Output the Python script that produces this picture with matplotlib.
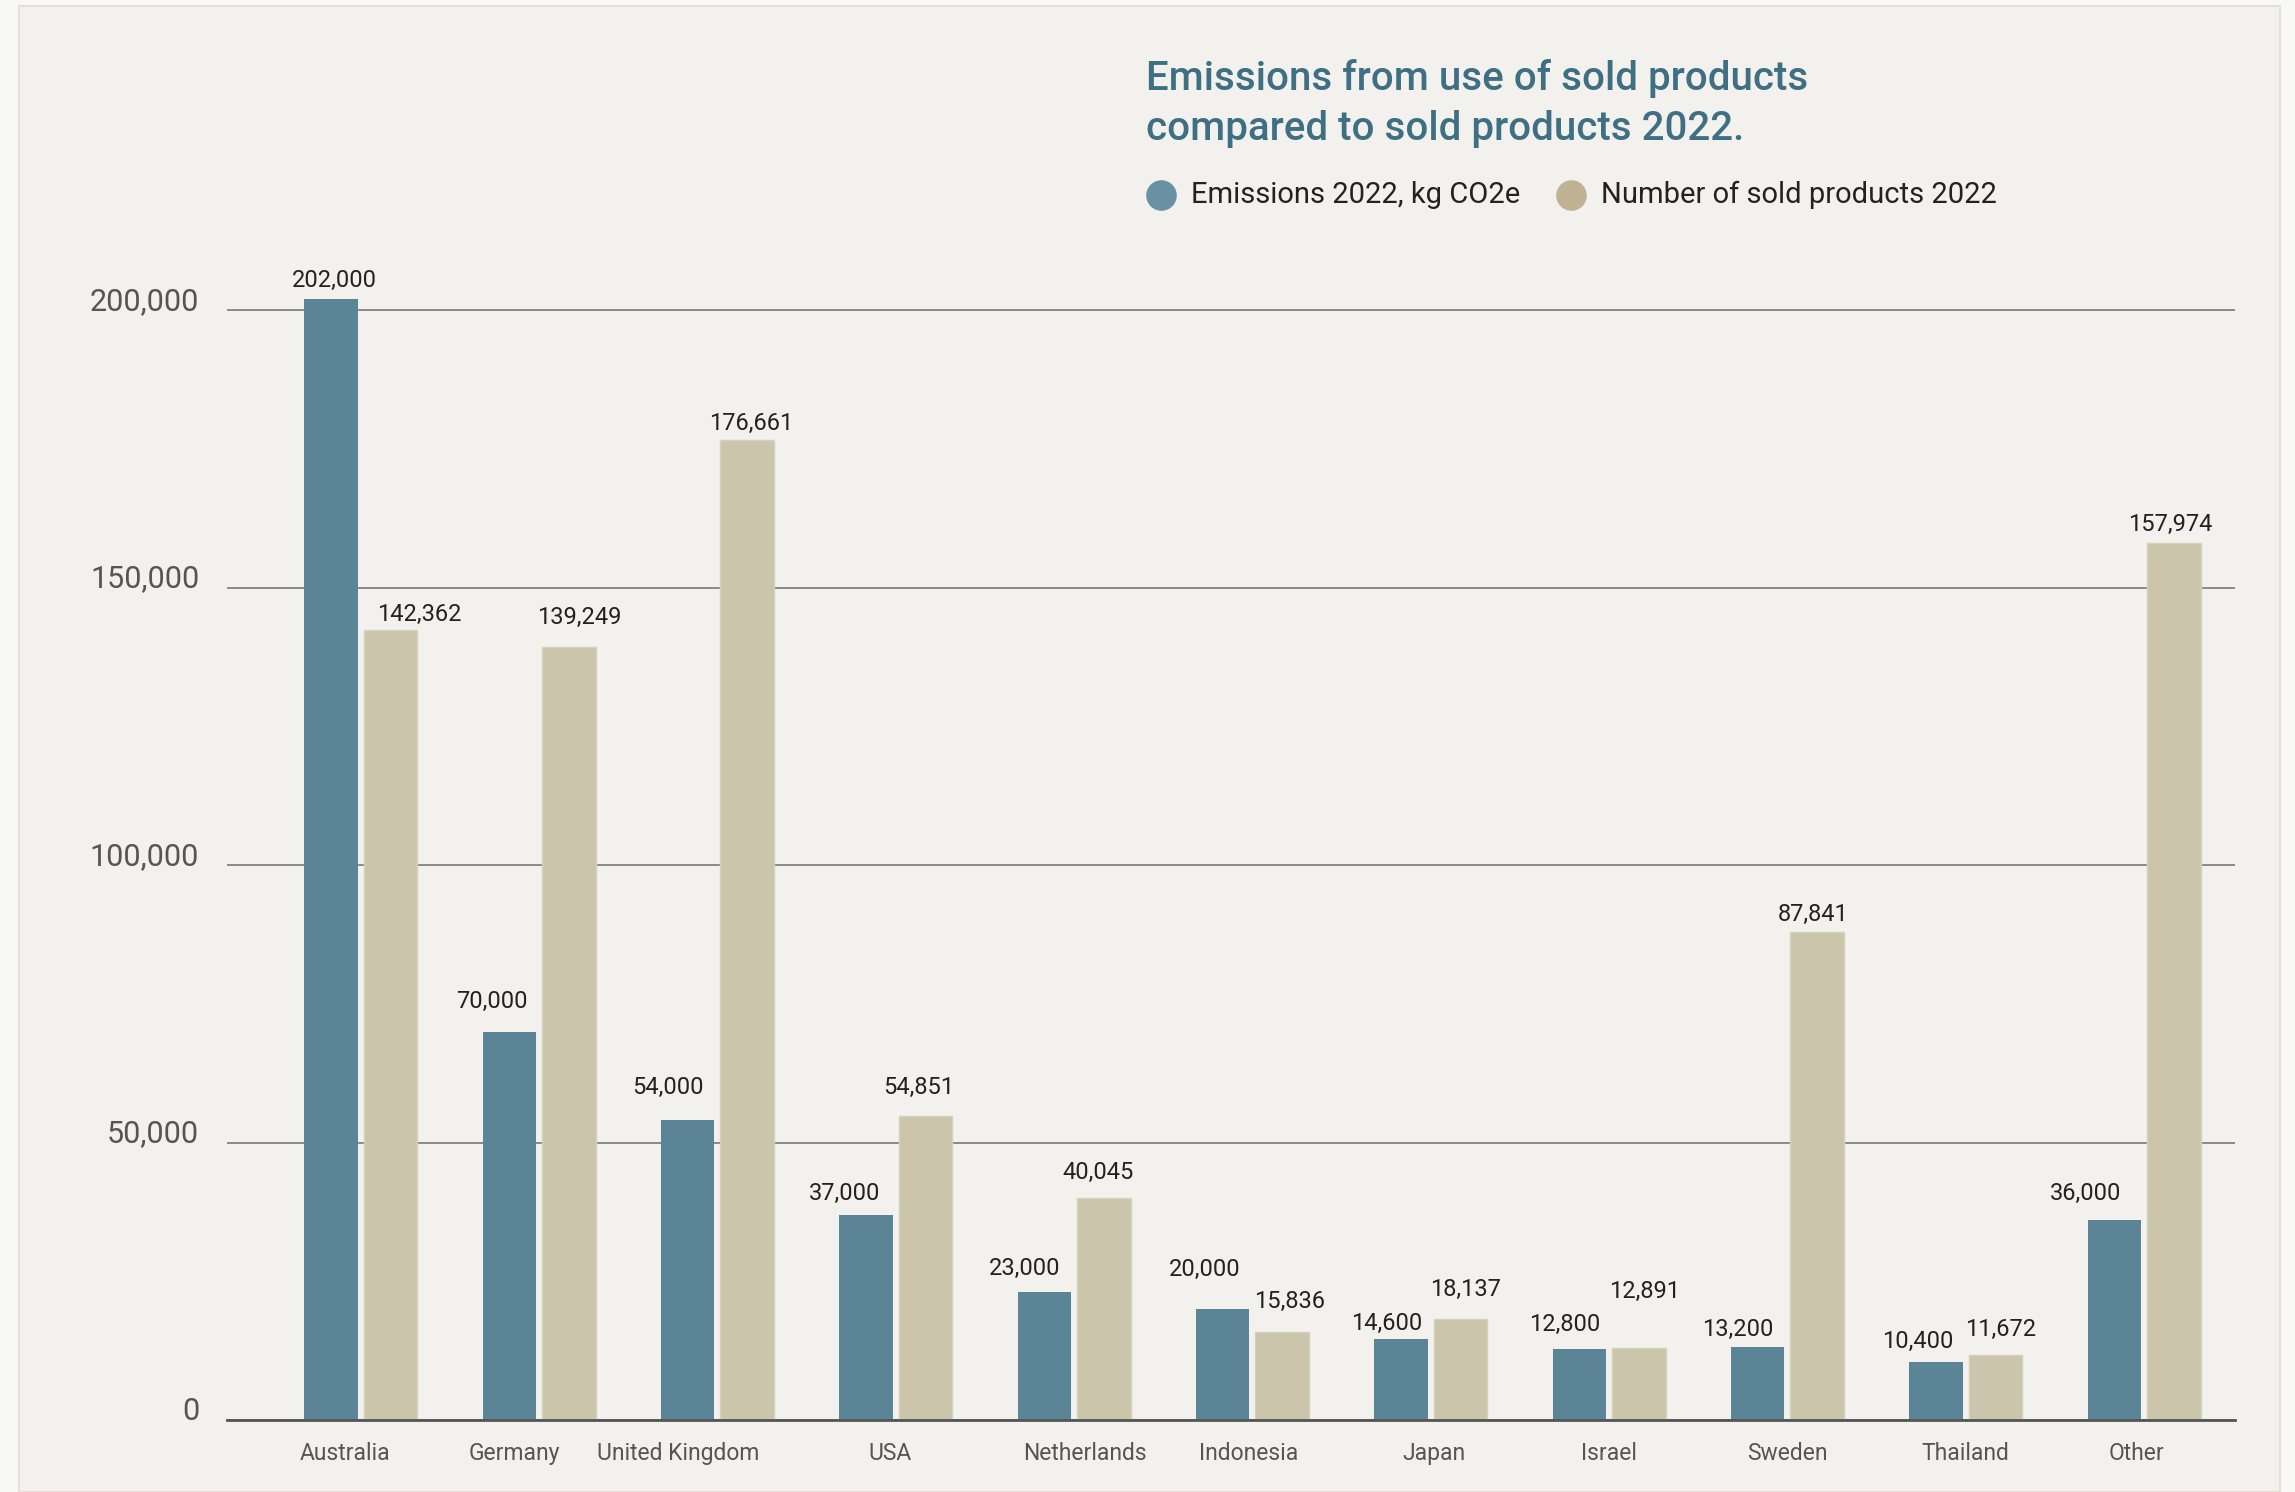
import numpy as np
import matplotlib.pyplot as plt
from matplotlib.lines import Line2D
from matplotlib.patches import Rectangle


# Data
countries = ['Australia', 'Germany', 'United Kingdom', 'USA', 'Netherlands',
             'Indonesia', 'Japan', 'Israel', 'Sweden', 'Thailand', 'Other']
emissions = [202000, 70000, 54000, 37000, 23000, 20000, 14600, 12800, 13200,
             10400, 36000]
sold = [142362, 139249, 176661, 54851, 40045, 15836, 18137, 12891, 87841,
        11672, 157974]
yticks = [0, 50000, 100000, 150000, 200000]

# Colours
bg = '#f2f1ed'
blue = '#5b8497'
tan = '#cbc5ab'
title_col = '#3e6f82'

plt.rcParams['font.family'] = ['Roboto', 'DejaVu Sans']

fig = plt.figure(figsize=(22.95, 14.92), dpi=100)
fig.patch.set_facecolor('#f8f8f6')

# card behind the chart
card = Rectangle((19 / 2295, 0), (2280 - 19) / 2295, 1 - 6 / 1492,
                 transform=fig.transFigure, facecolor=bg,
                 edgecolor='#e6e0d6', linewidth=1.5, zorder=-10)
fig.add_artist(card)

ax_h = 0.80
ax = fig.add_axes([227 / 2295, 72 / 1492, (2235 - 227) / 2295, ax_h])
ax.set_facecolor('none')

x = np.arange(len(countries))
w = 0.30
off = 0.167
ax.bar(x - off, emissions, w, color=blue, zorder=3)
ax.bar(x + off, sold, w, color=tan, edgecolor='#d6d1bb', linewidth=1,
       zorder=3)

# value labels, nudged like in the original layout (x in data units, y in pt)
blue_dx = [0.02, -0.10, -0.11, -0.12, -0.11, -0.10, -0.08, -0.08, -0.11,
           -0.10, -0.16]
tan_dx = [0.16, 0.06, 0.02, -0.04, -0.03, 0.04, 0.03, 0.03, -0.02, 0.03,
          -0.02]
blue_dy = [5, 13, 15, 7, 9, 20, 3, 9, 4, 7, 11]
tan_dy = [3, 13, 3, 12, 10, 14, 13, 33, 5, 10, 5]
for i in range(len(countries)):
    ax.annotate(f'{emissions[i]:,}', (x[i] - off + blue_dx[i], emissions[i]),
                xytext=(0, blue_dy[i]), textcoords='offset points',
                ha='center', va='bottom', fontsize=17, color='#222222')
    ax.annotate(f'{sold[i]:,}', (x[i] + off + tan_dx[i], sold[i]),
                xytext=(0, tan_dy[i]), textcoords='offset points',
                ha='center', va='bottom', fontsize=17, color='#222222')

ax.set_xlim(-0.75, 10.51)
# 200,000 sits 1110 px above the baseline
ax.set_ylim(0, ax_h * 1492 / 1110 * 200000)

# gridlines
ax.set_yticks(yticks)
ax.set_yticklabels([f'{v:,}' for v in yticks])
ax.grid(axis='y', color='#8a8a8a', linewidth=1.4, zorder=0)
for lab in ax.get_yticklabels():
    lab.set_verticalalignment('baseline')
ax.tick_params(axis='y', length=0, pad=20, labelsize=22, labelcolor='#555555')

# x labels, nudged like in the original
shift = [-0.09, -0.14, -0.22, -0.03, 0.06, -0.02, 0.02, 0, 0, 0, -0.04]
ax.set_xticks(x + np.array(shift))
ax.set_xticklabels(countries)
ax.tick_params(axis='x', length=0, pad=16, labelsize=16.5,
               labelcolor='#555555')

for s in ['top', 'right', 'left']:
    ax.spines[s].set_visible(False)
ax.spines['bottom'].set_color('#555555')
ax.spines['bottom'].set_linewidth(2)
ax.spines['bottom'].set_zorder(4)

# title
fig.text(1146 / 2295, 1 - 78 / 1492,
         'Emissions from use of sold products', fontsize=29,
         color=title_col, ha='left', va='center', fontweight='medium')
fig.text(1146 / 2295, 1 - 129 / 1492,
         'compared to sold products 2022.', fontsize=29,
         color=title_col, ha='left', va='center', fontweight='medium')

# legend
ly = 1 - 195 / 1492
fig.add_artist(Line2D([1161 / 2295], [ly], marker='o', markersize=21,
                      color='#6a90a4', linestyle='none',
                      transform=fig.transFigure))
fig.text(1191 / 2295, ly, 'Emissions 2022, kg CO2e', fontsize=21,
         color='#222222', ha='left', va='center')
fig.add_artist(Line2D([1571 / 2295], [ly], marker='o', markersize=21,
                      color='#c0b394', linestyle='none',
                      transform=fig.transFigure))
fig.text(1601 / 2295, ly, 'Number of sold products 2022', fontsize=21,
         color='#222222', ha='left', va='center')

fig.savefig('out.png', dpi=100, facecolor=fig.get_facecolor())
